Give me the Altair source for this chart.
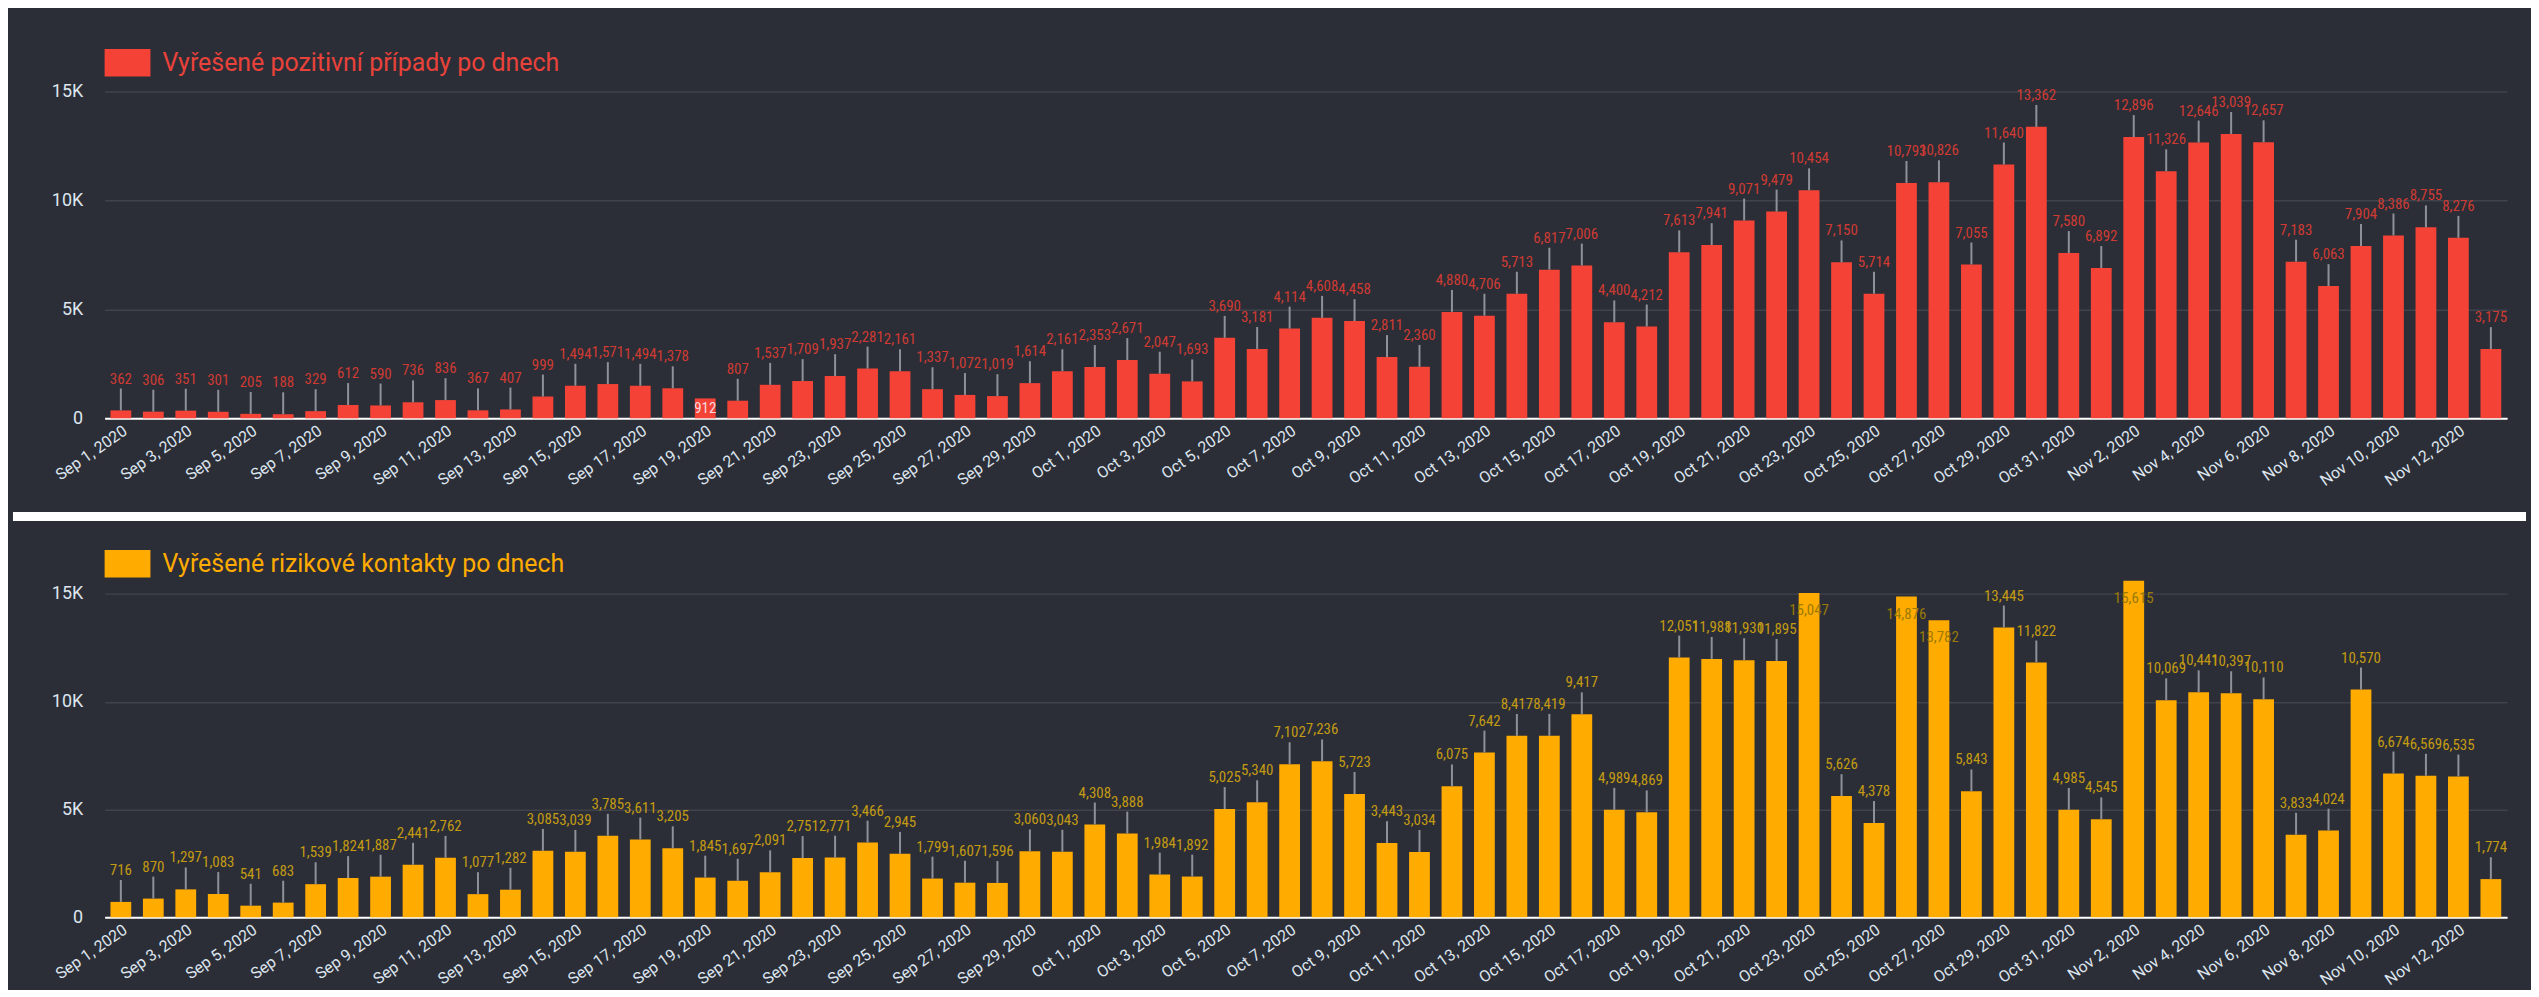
import altair as alt
import pandas as pd

# ---------------- data ----------------
dates = pd.date_range("2020-09-01", "2020-11-13", freq="D")
date_labels = [f"{d.strftime('%b')} {d.day}, {d.year}" for d in dates]

positive_title = "Vyřešené pozitivní případy po dnech"
positive = [
    362, 306, 351, 301, 205, 188, 329, 612, 590, 736, 836, 367, 407, 999, 1494,
    1571, 1494, 1378, 912, 807, 1537, 1709, 1937, 2281, 2161, 1337, 1072, 1019, 1614, 2161,
    2353, 2671, 2047, 1693, 3690, 3181, 4114, 4608, 4458, 2811, 2360, 4880, 4706, 5713, 6817,
    7006, 4400, 4212, 7613, 7941, 9071, 9479, 10454, 7150, 5714, 10793, 10826, 7055, 11640,
    13362, 7580,
    6892, 12896, 11326, 12646, 13039, 12657, 7183, 6063, 7904, 8386, 8755, 8276, 3175,
]

contacts_title = "Vyřešené rizikové kontakty po dnech"
contacts = [
    716, 870, 1297, 1083, 541, 683, 1539, 1824, 1887, 2441, 2762, 1077, 1282, 3085, 3039,
    3785, 3611, 3205, 1845, 1697, 2091, 2751, 2771, 3466, 2945, 1799, 1607, 1596, 3060, 3043,
    4308, 3888, 1984, 1892, 5025, 5340, 7102, 7236, 5723, 3443, 3034, 6075, 7642, 8417, 8419,
    9417, 4989, 4869, 12051, 11988, 11930, 11895, 15047, 5626, 4378, 14876, 13782, 5843, 13445,
    11822, 4985,
    4545, 15615, 10069, 10441, 10397, 10110, 3833, 4024, 10570, 6674, 6569, 6535, 1774,
]

# label placement quirks seen in the reference (indices into the day list)
positive_inside_base = [18]
positive_inside_top = []
contacts_inside_base = []
contacts_inside_top = [52, 55, 56, 62]

# ---------------- style ----------------
BG = "#2c2e37"
GRID = "#40434c"
AXIS_TXT = "#dde5ef"
WHISKER = "#8e9198"
NARROW = "Liberation Sans Narrow, Roboto Condensed, Roboto, sans-serif"
W = 2412


def panel(values, title, bar_color, label_color, title_color, H, ymax, legend_y,
          inside_top, inside_base, sep_visible):
    df = pd.DataFrame({"date": date_labels, "value": values, "series": title})
    df["label"] = [f"{v:,}" for v in values]
    df["pos"] = [
        "base" if i in inside_base else ("top" if i in inside_top else "above")
        for i in range(len(values))
    ]

    x = alt.X(
        "date:N",
        sort=date_labels,
        title=None,
        scale=alt.Scale(paddingInner=0.36, paddingOuter=0.18),
        axis=alt.Axis(
            values=date_labels[::2],
            labelAngle=-35,
            labelFont="Roboto",
            labelFontSize=16,
            labelColor=AXIS_TXT,
            labelPadding=4,
            ticks=False,
            grid=False,
            domain=True,
            domainColor="#ffffff",
            domainWidth=2,
        ),
    )
    y = alt.Y(
        "value:Q",
        title=None,
        scale=alt.Scale(domain=[0, ymax], nice=False),
        axis=alt.Axis(
            values=[0, 5000, 10000, 15000],
            labelExpr="datum.value == 0 ? '0' : format(datum.value / 1000, 'd') + 'K'",
            labelFont="Roboto",
            labelFontSize=18,
            labelColor=AXIS_TXT,
            labelPadding=22,
            ticks=False,
            domain=False,
            grid=True,
            gridColor=GRID,
            gridWidth=1.5,
        ),
    )

    base = alt.Chart(df).encode(x=x)

    bars = base.mark_bar().encode(
        y=y,
        color=alt.Color(
            "series:N",
            scale=alt.Scale(domain=[title], range=[bar_color]),
            legend=alt.Legend(
                title=None,
                orient="none",
                legendX=0,
                legendY=legend_y,
                symbolType="M-1,-0.6L1,-0.6L1,0.6L-1,0.6Z",
                symbolSize=2116,
                symbolStrokeWidth=0,
                symbolOpacity=1,
                labelFont="Roboto",
                labelFontSize=25,
                labelColor=title_color,
                labelOffset=12,
                labelLimit=800,
            ),
        ),
    )

    whisk = base.transform_filter("datum.pos == 'above'").mark_rule(
        color=WHISKER, strokeWidth=2, y2Offset=-22
    ).encode(y="value:Q", y2=alt.Y2("value"))

    lab_above = base.transform_filter("datum.pos == 'above'").mark_text(
        baseline="bottom", dy=-24, font=NARROW, fontSize=15, color=label_color
    ).encode(y="value:Q", text="label:N")

    lab_top = base.transform_filter("datum.pos == 'top'").mark_text(
        baseline="top", dy=10, font=NARROW, fontSize=15, color="#9a7a08"
    ).encode(y="value:Q", text="label:N")

    lab_base = base.transform_filter("datum.pos == 'base'").mark_text(
        baseline="bottom", dy=-2, font=NARROW, fontSize=15, color="#f7d8de"
    ).encode(y=alt.datum(0), text="label:N")

    sep = alt.Chart(pd.DataFrame({"s": [0]})).mark_rule(
        color="#ffffff", strokeWidth=9, strokeOpacity=1 if sep_visible else 0
    ).encode(
        x=alt.value(-92),
        x2=alt.value(W + 19),
        y=alt.value(H + 98.5 if sep_visible else H / 2),
    )

    return alt.layer(sep, bars, whisk, lab_above, lab_top, lab_base).properties(
        width=W, height=H
    )


top = panel(positive, positive_title, "#f44336", "#cf3b33", "#e8423a",
            346, 15800, -34, positive_inside_top, positive_inside_base, True)
bottom = panel(contacts, contacts_title, "#ffab00", "#c39b12", "#ffab00",
               342, 15800, -36, contacts_inside_top, contacts_inside_base, False)

chart = alt.vconcat(top, bottom, spacing=20).resolve_scale(
    color="independent"
).resolve_legend(color="independent").properties(
    background=BG,
    padding={"left": 0, "top": 30, "right": 0, "bottom": 0},
).configure_view(stroke=None)

chart.save("out.html", embed_options={"renderer": "svg", "actions": False})
